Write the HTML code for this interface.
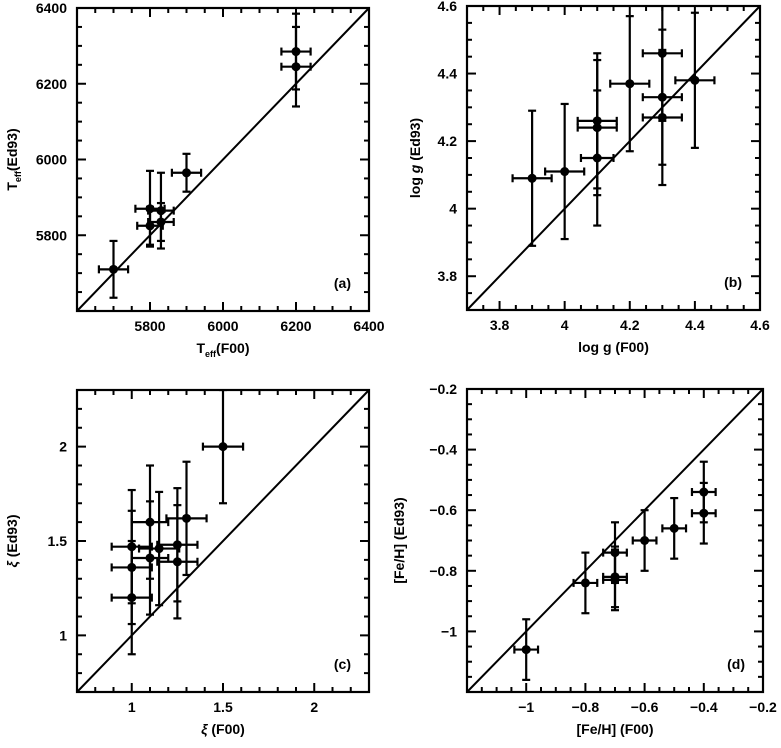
<!DOCTYPE html>
<html><head><meta charset="utf-8"><style>
body{margin:0;background:#fff}
svg text{font-family:"Liberation Sans",sans-serif;font-weight:bold;font-size:14px;fill:#000}
</style></head><body>
<svg id="s" width="781" height="743" xmlns="http://www.w3.org/2000/svg"></svg>
<script>
// Panel (a) Teff
const aX=[6200,6200,5900,5800,5830,5800,5830,5700];
const aY=[6285,6245,5965,5870,5865,5825,5835,5710];
const aXe=[40,40,40,40,35,35,35,40];
const aYe=[100,105,50,100,100,50,50,75];
// Panel (b) log g
const bX=[3.9,4.0,4.1,4.1,4.1,4.2,4.3,4.3,4.3,4.4];
const bY=[4.09,4.11,4.26,4.24,4.15,4.37,4.46,4.33,4.27,4.38];
const bXe=[0.06,0.06,0.06,0.06,0.05,0.06,0.06,0.06,0.06,0.06];
const bYe=[0.2,0.2,0.2,0.2,0.2,0.2,0.2,0.2,0.2,0.2];
// Panel (c) xi
const cX=[1.5,1.0,1.0,1.0,1.1,1.1,1.15,1.25,1.25,1.3];
const cY=[2.0,1.47,1.36,1.2,1.6,1.41,1.46,1.48,1.39,1.62];
const cXe=[0.11,0.11,0.11,0.11,0.1,0.1,0.11,0.11,0.11,0.11];
const cYe=[0.3,0.3,0.3,0.3,0.3,0.3,0.3,0.3,0.3,0.3];
// Panel (d) [Fe/H]
const dX=[-1.0,-0.8,-0.7,-0.7,-0.7,-0.6,-0.5,-0.4,-0.4];
const dY=[-1.06,-0.84,-0.74,-0.82,-0.83,-0.70,-0.66,-0.54,-0.61];
const dXe=[0.04,0.04,0.04,0.04,0.04,0.04,0.04,0.04,0.04];
const dYe=[0.1,0.1,0.1,0.1,0.1,0.1,0.1,0.1,0.1];
const aTicks=["5800","6000","6200","6400"];
const bTicks=["3.8","4","4.2","4.4","4.6"];
const cTicks=["1","1.5","2"];
const dTicks=["-1","-0.8","-0.6","-0.4","-0.2"];

const S=document.getElementById('s');const NS='http://www.w3.org/2000/svg';
function mk(t,at,p){const e=document.createElementNS(NS,t);for(const k in at)e.setAttribute(k,at[k]);(p||S).appendChild(e);return e;}
function panel(o){
  const g=mk('g',{});
  
  
  const sx=v=>o.x0+(v-o.min)/(o.max-o.min)*(o.x1-o.x0);
  const sy=v=>o.y1-(v-o.min)/(o.max-o.min)*(o.y1-o.y0);
  const cp=mk('clipPath',{id:'cp'+o.id},g);
  mk('rect',{x:o.x0,y:o.y0,width:o.x1-o.x0,height:o.y1-o.y0},cp);
  const fr=mk('rect',{x:o.x0,y:o.y0,width:o.x1-o.x0,height:o.y1-o.y0,fill:'none',stroke:'#000','stroke-width':2.2},g);
  
  
  const n=Math.round((o.max-o.min)/o.minor);
  for(let i=1;i<n;i++){const v=o.min+i*o.minor;const maj=Math.abs(((v-o.majStart)/o.major)-Math.round((v-o.majStart)/o.major))<1e-6;const L=maj?9:5;
    const X=sx(v),Y=sy(v);
    mk('line',{x1:X,y1:o.y1,x2:X,y2:o.y1-L,stroke:'#000','stroke-width':2},g);
    mk('line',{x1:X,y1:o.y0,x2:X,y2:o.y0+L,stroke:'#000','stroke-width':2},g);
    mk('line',{x1:o.x0,y1:Y,x2:o.x0+L,y2:Y,stroke:'#000','stroke-width':2},g);
    mk('line',{x1:o.x1,y1:Y,x2:o.x1-L,y2:Y,stroke:'#000','stroke-width':2},g);}
  o.ticks.forEach(t=>{const v=parseFloat(t);
    const tx=mk('text',{x:sx(v),y:o.y1+20,'text-anchor':'middle'},g);tx.textContent=t.replace('-','\u2212');
    
    
    const ty=mk('text',{x:o.x0-10,y:sy(v)+5,'text-anchor':'end'},g);ty.textContent=t.replace('-','\u2212');
    
    });
  const dl=mk('line',{x1:sx(o.min),y1:sy(o.min),x2:sx(o.max),y2:sy(o.max),stroke:'#000','stroke-width':2},g);
  
  
  const pg=mk('g',{'clip-path':'url(#cp'+o.id+')'},g);
  o.X.forEach((xv,i)=>{const X=sx(xv),Y=sy(o.Y[i]);const xa=sx(xv-o.Xe[i]),xb=sx(xv+o.Xe[i]);const ya=sy(o.Y[i]-o.Ye[i]),yb=sy(o.Y[i]+o.Ye[i]);
    const e=mk('g',{stroke:'#000','stroke-width':2.2},pg);
    
    
    mk('line',{x1:xa,y1:Y,x2:xb,y2:Y},e);mk('line',{x1:X,y1:ya,x2:X,y2:yb},e);
    mk('line',{x1:xa,y1:Y-4,x2:xa,y2:Y+4},e);mk('line',{x1:xb,y1:Y-4,x2:xb,y2:Y+4},e);
    mk('line',{x1:X-4,y1:ya,x2:X+4,y2:ya},e);mk('line',{x1:X-4,y1:yb,x2:X+4,y2:yb},e);
    mk('circle',{cx:X,cy:Y,r:4.5,fill:'#000',stroke:'none'},e);});
  const pl=mk('text',{x:o.x1-18,y:o.y1-23,'text-anchor':'end'},g);pl.textContent='('+o.id+')';
  
  
  const xt=mk('text',{x:(o.x0+o.x1)/2,y:o.y1+42,'text-anchor':'middle'},g);xt.innerHTML=o.xl;
  
  
  const cy=(o.y0+o.y1)/2,cx=o.yx;
  const yt=mk('text',{x:cx,y:cy,'text-anchor':'middle',transform:'rotate(-90 '+cx+' '+cy+')'},g);yt.innerHTML=o.yl;
  
  
}
panel({id:'a',x0:77,x1:369,y0:8,y1:311,min:5600,max:6400,minor:50,major:200,majStart:5600,ticks:aTicks,X:aX,Y:aY,Xe:aXe,Ye:aYe,yx:17,
 xl:'T<tspan font-size="9" dy="4">eff</tspan><tspan dy="-4">(F00)</tspan>',yl:'T<tspan font-size="9" dy="4">eff</tspan><tspan dy="-4">(Ed93)</tspan>'});
panel({id:'b',x0:467,x1:760,y0:6,y1:310,min:3.7,max:4.6,minor:0.05,major:0.2,majStart:3.8,ticks:bTicks,X:bX,Y:bY,Xe:bXe,Ye:bYe,yx:420,
 xl:'log g  (F00)',yl:'log <tspan font-style="italic">g</tspan>  (Ed93)'});
panel({id:'c',x0:77,x1:369,y0:390,y1:692,min:0.7,max:2.3,minor:0.1,major:0.5,majStart:1.0,ticks:cTicks,X:cX,Y:cY,Xe:cXe,Ye:cYe,yx:17,
 xl:'<tspan font-style="italic">ξ</tspan>  (F00)',yl:'<tspan font-style="italic">ξ</tspan>  (Ed93)'});
panel({id:'d',x0:467,x1:763,y0:389,y1:692,min:-1.2,max:-0.2,minor:0.05,major:0.2,majStart:-1.2,ticks:dTicks,X:dX,Y:dY,Xe:dXe,Ye:dYe,yx:404,
 xl:'[Fe/H]  (F00)',yl:'[Fe/H]  (Ed93)'});
</script>
</body></html>
